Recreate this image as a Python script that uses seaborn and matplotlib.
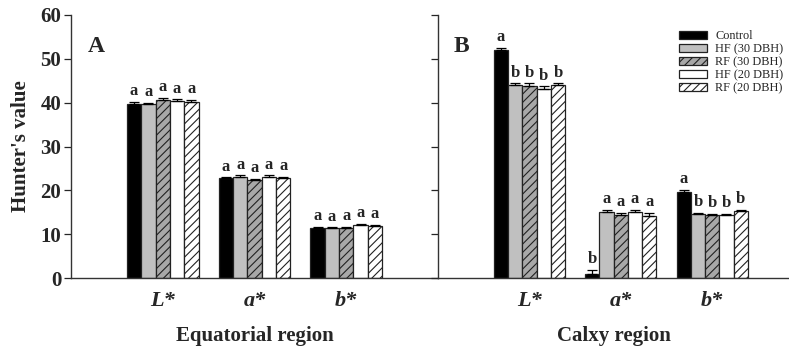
import numpy as np
import pandas as pd
import matplotlib
matplotlib.use('Agg')
import matplotlib.pyplot as plt
import seaborn as sns

sns.set_style('ticks')
plt.rcParams['font.family'] = ['Liberation Serif', 'DejaVu Serif']
plt.rcParams['hatch.linewidth'] = 0.8

attributes = ['L*', 'a*', 'b*']
treatments = ['Control', 'HF (30 DBH)', 'RF (30 DBH)', 'HF (20 DBH)', 'RF (20 DBH)']

# Equatorial region (panel A), rows = treatments, cols = attributes
equ_values = [[39.8, 22.7, 11.5],
              [39.6, 23.0, 11.4],
              [40.7, 22.3, 11.5],
              [40.4, 23.0, 12.0],
              [40.2, 22.8, 11.9]]
equ_errors = [[0.4, 0.3, 0.2],
              [0.3, 0.4, 0.2],
              [0.4, 0.3, 0.2],
              [0.4, 0.4, 0.3],
              [0.4, 0.3, 0.3]]
equ_letters = [['a', 'a', 'a'],
               ['a', 'a', 'a'],
               ['a', 'a', 'a'],
               ['a', 'a', 'a'],
               ['a', 'a', 'a']]

# Calyx region (panel B)
cal_values = [[52.0, 1.0, 19.6],
              [44.0, 15.1, 14.6],
              [43.9, 14.4, 14.3],
              [43.2, 15.1, 14.4],
              [44.0, 14.1, 15.2]]
cal_errors = [[0.5, 0.9, 0.5],
              [0.4, 0.5, 0.2],
              [0.5, 0.5, 0.3],
              [0.5, 0.4, 0.3],
              [0.4, 0.7, 0.4]]
cal_letters = [['a', 'b', 'a'],
               ['b', 'a', 'b'],
               ['b', 'a', 'b'],
               ['b', 'a', 'b'],
               ['b', 'a', 'b']]

colors = ['black', '#c0c0c0', '#a8a8a8', 'white', 'white']
hatches = ['', '', '////', '', '////']


def make_df(values):
    rows = []
    for t, vals in zip(treatments, values):
        for a, v in zip(attributes, vals):
            rows.append({'attr': a, 'treat': t, 'value': v})
    return pd.DataFrame(rows)


fig = plt.figure(figsize=(7.89, 3.47), dpi=100)
axA = fig.add_axes([71 / 789, 1 - 278 / 347, (438 - 71) / 789, (278 - 15) / 347])
axB = fig.add_axes([438 / 789, 1 - 278 / 347, (789 - 438) / 789, (278 - 15) / 347])


def draw(ax, values, errors, letters, panel, xlabel, xmax):
    df = make_df(values)
    sns.barplot(data=df, x='attr', y='value', hue='treat', order=attributes,
                hue_order=treatments, palette=colors, errorbar=None,
                width=0.78, edgecolor='#222222', linewidth=0.9, legend=False, ax=ax)
    bars = list(ax.containers)
    for i, cont in enumerate(bars):
        for j, bar in enumerate(cont.patches):
            bar.set_hatch(hatches[i])
            x = bar.get_x() + bar.get_width() / 2
            h = bar.get_height()
            e = errors[i][j]
            ax.errorbar(x, h, yerr=[[0], [e]], fmt='none', ecolor='black',
                        elinewidth=0.9, capsize=3.5, capthick=0.9)
            ax.text(x, h + e + 0.6, letters[i][j], ha='center', va='bottom',
                    fontsize=12, fontweight='bold')
    ax.set_ylim(0, 60)
    ax.set_xlim(-1.0, xmax)
    ax.set_yticks(np.arange(0, 61, 10))
    ax.set_xticklabels(attributes, fontsize=16, fontweight='bold', fontstyle='italic')
    ax.tick_params(axis='x', length=0, pad=9)
    ax.tick_params(axis='y', direction='out', length=5, width=0.9, labelsize=15, pad=2)
    for lab in ax.get_yticklabels():
        lab.set_fontweight('bold')
    ax.set_xlabel(xlabel, fontsize=15, fontweight='bold', labelpad=11)
    ax.text(0.045, 0.88, panel, transform=ax.transAxes, fontsize=17,
            fontweight='bold', va='center')
    for s in ['top', 'right']:
        ax.spines[s].set_visible(False)
    for s in ['left', 'bottom']:
        ax.spines[s].set_linewidth(1.0)
        ax.spines[s].set_color('#333333')
    return bars


draw(axA, equ_values, equ_errors, equ_letters, 'A', 'Equatorial region', 3.0)
barsB = draw(axB, cal_values, cal_errors, cal_letters, 'B', 'Calxy region', 2.84)

axA.set_ylabel("Hunter's value", fontsize=15, fontweight='bold', labelpad=7)
axB.set_ylabel('')
axB.set_yticklabels([])

axB.legend(barsB, treatments, loc='upper left',
           bbox_to_anchor=(0.672, 0.96), frameon=False, fontsize=8.8,
           handlelength=2.3, handleheight=0.65, labelspacing=0.08,
           handletextpad=0.7, borderaxespad=0)

fig.savefig('out.png', dpi=100)
